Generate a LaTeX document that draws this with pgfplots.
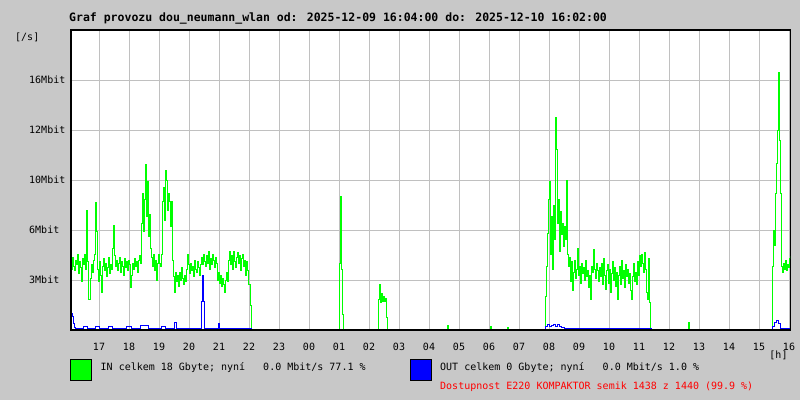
\documentclass[border=0pt]{standalone}
\usepackage{fontspec}
\setmainfont{DejaVu Sans Mono}
\usepackage{pgfplots}
\pgfplotsset{compat=1.18}
\definecolor{bggray}{RGB}{200,200,200}
\definecolor{gridgray}{RGB}{192,192,192}
\definecolor{ingreen}{RGB}{0,255,0}
\definecolor{outblue}{RGB}{0,0,255}
\definecolor{avred}{RGB}{255,0,0}
\begin{document}
\begin{tikzpicture}[x=1pt,y=1pt]
\fill[bggray] (0,0) rectangle (800,400);
\begin{axis}[at={(70pt,70pt)}, anchor=south west, width=720pt, height=300pt, scale only axis,
 xmin=2, xmax=1442, ymin=0, ymax=19.8,
 axis background/.style={fill=white},
 xtick={60,120,...,1440},
 xticklabels={17,18,19,20,21,22,23,00,01,02,03,04,05,06,07,08,09,10,11,12,13,14,15,16},
 ytick={3.3,6.6,9.9,13.2,16.5},
 yticklabels={3Mbit,6Mbit,10Mbit,12Mbit,16Mbit},
 major tick length=0pt,
 grid=major, major grid style={gridgray, line width=1pt},
 axis line style={black, line width=1pt},
 tick label style={font=\fontsize{10}{12}\selectfont, inner sep=0pt},
 xticklabel style={anchor=center, yshift=-17pt},
 yticklabel style={anchor=west, xshift=-41pt},
]
\addplot[const plot, color=ingreen, line width=1pt] table {
x y
2 4.4
4 4.0
6 4.8
8 4.2
10 3.9
12 4.6
14 4.3
16 5.0
18 3.7
20 4.5
22 4.1
24 3.2
26 4.7
28 4.3
30 5.0
32 4.0
34 7.9
36 4.5
38 2.0
40 2.0
42 3.4
44 4.3
46 3.8
48 4.6
50 5.0
52 8.4
54 6.5
56 4.0
58 3.2
60 4.5
62 3.6
64 2.5
66 4.2
68 4.7
70 3.9
72 4.4
74 3.5
76 4.1
78 4.8
80 3.7
82 4.3
84 4.0
86 5.4
88 6.9
90 4.9
92 4.2
94 4.6
96 3.9
98 4.4
100 4.8
102 3.8
104 4.5
106 4.2
108 3.6
110 4.7
112 4.1
114 4.5
116 3.9
118 4.6
120 4.3
122 2.8
124 3.6
126 4.4
128 4.0
130 4.7
132 4.2
134 4.5
136 3.8
138 4.6
140 4.9
142 4.4
144 7.0
146 9.0
148 6.5
150 8.6
152 10.9
154 7.5
156 9.8
158 6.2
160 7.6
162 5.4
164 4.8
166 4.2
168 5.0
170 3.9
172 4.6
174 3.3
176 4.4
178 5.0
180 4.4
182 4.2
184 5.0
186 8.5
188 9.4
190 7.2
192 10.5
194 9.9
196 7.9
198 9.0
200 8.5
202 6.8
204 8.5
206 4.6
208 3.5
210 2.5
212 3.8
214 3.2
216 3.6
218 2.9
220 3.8
222 3.3
224 4.1
226 3.4
228 3.0
230 3.6
232 3.2
234 4.0
236 5.0
238 4.3
240 3.7
242 4.4
244 3.9
246 4.2
248 3.5
250 4.6
252 4.0
254 3.8
256 4.5
258 4.1
260 3.6
262 4.3
264 4.8
266 4.3
268 5.0
270 4.5
272 4.2
274 4.9
276 4.4
278 5.2
280 4.0
282 4.7
284 4.3
286 5.0
288 4.6
290 4.1
292 4.8
294 4.4
296 3.3
298 3.8
300 3.1
302 3.6
304 2.9
306 3.4
308 3.0
310 2.5
312 3.3
314 3.8
316 3.2
318 4.6
320 5.2
322 4.3
324 4.9
326 4.0
328 5.2
330 4.5
332 4.1
334 4.8
336 5.1
338 4.4
340 4.9
342 3.9
344 4.7
346 5.0
348 4.2
350 4.6
352 3.6
354 4.5
356 3.9
358 3.0
360 3.0
362 1.6
364 0
538 0
540 4.4
542 8.8
544 4.0
546 1.0
548 0
616 0
618 2.0
620 3.0
622 1.8
624 2.4
626 1.9
628 2.2
630 1.9
632 2.1
634 0.8
636 0
756 0.3
758 0
842 0.2
844 0
876 0.15
878 0
950 0
952 2.2
954 4.2
956 6.4
958 8.6
960 9.8
962 5.0
964 7.5
966 4.0
968 8.2
970 6.0
972 14.0
974 11.9
976 7.0
978 8.6
980 5.2
982 7.8
984 6.3
986 7.0
988 5.5
990 6.8
992 6.0
994 9.9
996 5.0
998 4.2
1000 4.8
1002 3.2
1004 4.5
1006 2.6
1008 3.8
1010 4.6
1012 3.4
1014 4.0
1016 5.4
1018 3.6
1020 4.2
1022 3.1
1024 4.4
1026 3.7
1028 4.1
1030 3.3
1032 4.6
1034 3.5
1036 3.9
1038 2.8
1040 3.6
1042 2.0
1044 4.2
1046 3.8
1048 5.3
1050 4.0
1052 3.4
1054 4.4
1056 3.9
1058 3.2
1060 4.1
1062 3.5
1064 4.4
1066 3.0
1068 4.7
1070 3.6
1072 2.7
1074 3.9
1076 4.3
1078 3.1
1080 4.0
1082 2.5
1084 3.7
1086 4.5
1088 3.3
1090 4.1
1092 2.9
1094 3.8
1096 2.0
1098 3.6
1100 4.2
1102 3.0
1104 4.6
1106 3.4
1108 3.9
1110 2.8
1112 4.3
1114 3.5
1116 4.0
1118 3.1
1120 3.7
1122 2.6
1124 2.0
1126 3.5
1128 4.4
1130 3.2
1132 3.8
1134 3.0
1136 4.5
1138 3.6
1140 4.9
1142 4.2
1144 5.0
1146 4.4
1148 3.8
1150 5.1
1152 4.0
1154 2.5
1156 2.0
1158 4.7
1160 1.8
1162 0
1238 0.5
1240 0
1404 0
1406 4.2
1408 6.6
1410 5.6
1412 9.0
1414 11.0
1416 13.2
1418 17.0
1420 12.5
1422 9.0
1424 4.2
1426 3.8
1428 4.4
1430 4.0
1432 4.6
1434 3.9
1436 4.3
1438 4.1
1440 4.7
1442 4.9
};
\addplot[const plot, color=outblue, line width=1pt] table {
x y
2 0.3
4 1.1
6 0.9
8 0.4
10 0.15
12 0.12
28 0.2
36 0.12
52 0.25
60 0.12
78 0.25
86 0.12
114 0.25
124 0.12
142 0.3
158 0.12
184 0.25
192 0.12
210 0.5
214 0.12
264 1.9
266 3.6
268 1.9
270 0.12
298 0.4
300 0.12
362 0.12
364 0
950 0
952 0.25
956 0.35
960 0.2
964 0.3
968 0.35
972 0.25
976 0.35
980 0.25
984 0.15
990 0.12
1162 0.12
1164 0
1404 0
1406 0.2
1410 0.5
1414 0.6
1418 0.4
1422 0.12
1442 0.12
};
\end{axis}
\draw[black, line width=2pt] (71,370) -- (71,70.5) -- (790,70.5);
\node[anchor=west, inner sep=0pt, font=\fontsize{11.5}{13}\selectfont\bfseries] at (69,382) {Graf provozu dou\_neumann\_wlan od: 2025-12-09 16:04:00 do: 2025-12-10 16:02:00};
\node[anchor=west, inner sep=0pt, font=\fontsize{10}{12}\selectfont] at (15,363) {[/s]};
\node[anchor=center, inner sep=0pt, font=\fontsize{10}{12}\selectfont] at (778.5,44.5) {[h]};
\draw[black, line width=1pt, fill=ingreen] (70.5,19.5) rectangle (91.5,40.5);
\draw[black, line width=1pt, fill=outblue] (410.5,19.5) rectangle (431.5,40.5);
\node[anchor=west, inner sep=0pt, font=\fontsize{10}{12}\selectfont] at (100.5,32) {IN celkem 18 Gbyte; nyní~~~0.0 Mbit/s 77.1 \%};
\node[anchor=west, inner sep=0pt, font=\fontsize{10}{12}\selectfont] at (440,32) {OUT celkem 0 Gbyte; nyní~~~0.0 Mbit/s 1.0 \%};
\node[anchor=west, inner sep=0pt, font=\fontsize{10}{12}\selectfont, text=avred] at (440,13.3) {Dostupnost E220 KOMPAKTOR semik 1438 z 1440 (99.9 \%)};
\end{tikzpicture}
\end{document}
